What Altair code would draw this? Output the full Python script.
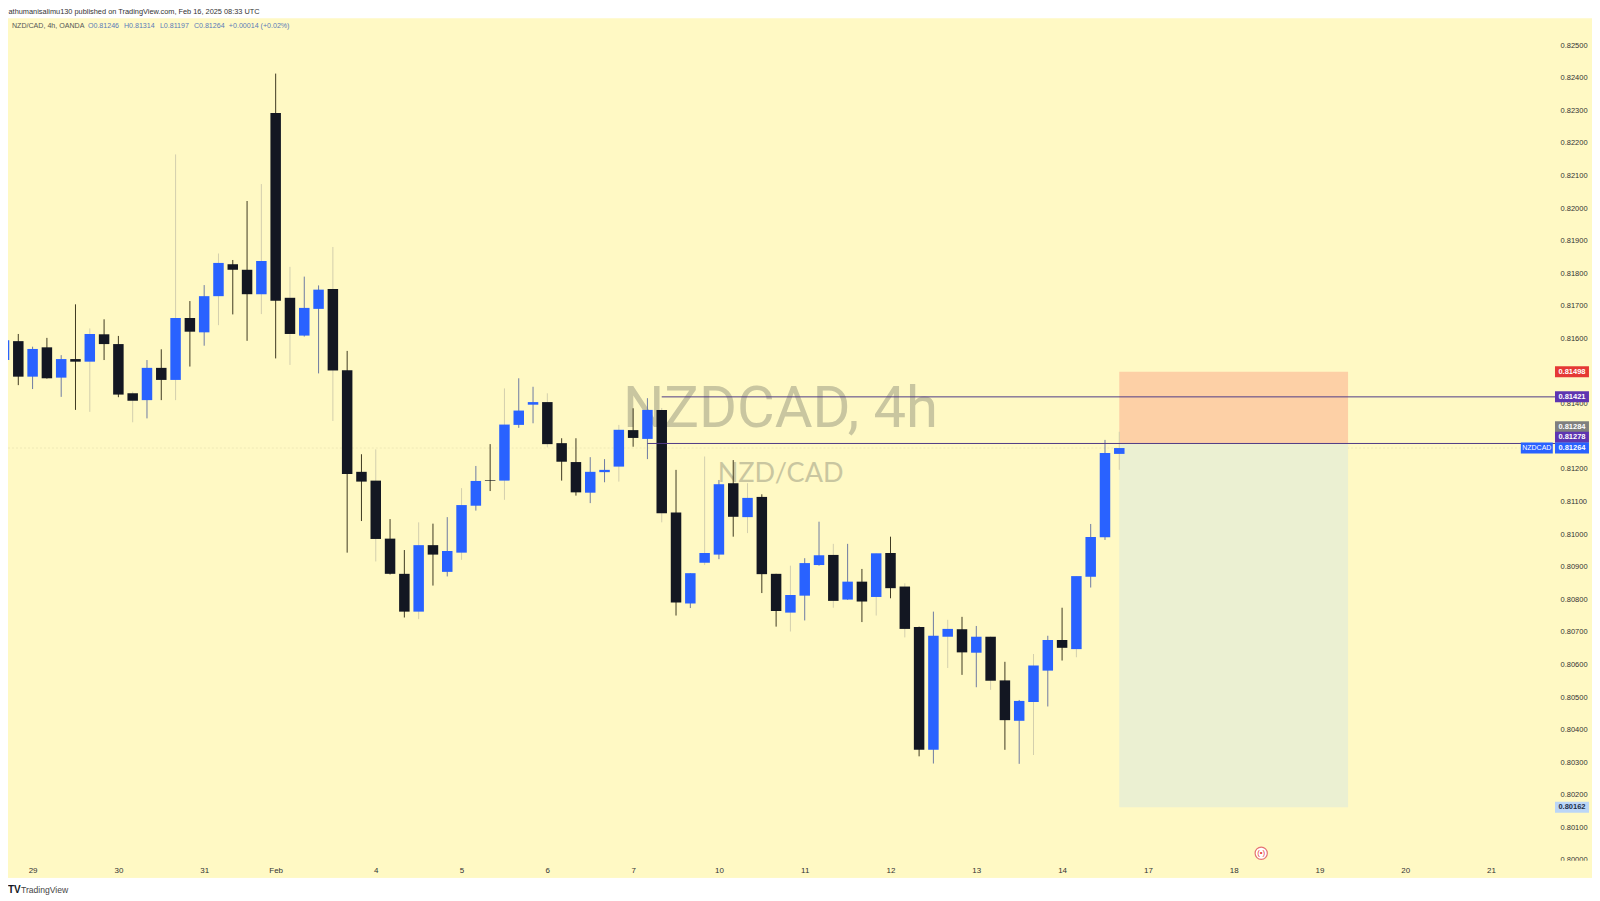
import altair as alt
import pandas as pd

opens = [.81534,.81592,.81483,.81573,.81480,.81537,.81529,.81613,.81583,.81432,.81411,.81510,.81473,.81663,.81619,.81730,.81828,.81811,.81736,.82292,
         .81725,.81609,.81691,.81752,.81503,.81191,.81164,.80986,.80878,.80762,.80966,.80884,.80943,.81087,.81166,.81164,.81335,.81397,.81405,.81279,
         .81221,.81127,.81190,.81207,.81319,.81292,.81381,.81066,.80787,.80912,.80937,.81156,.81052,.81114,.80878,.80759,.80811,.80905,.80936,.80799,
         .80854,.80807,.80942,.80839,.80715,.80338,.80685,.80708,.80636,.80685,.80551,.80427,.80485,.80581,.80675,.80647,.80869,.80990,.81246]
highs = [.81610,.81614,.81575,.81602,.81549,.81705,.81631,.81659,.81608,.81437,.81534,.81567,.82165,.81715,.81764,.81861,.81841,.82022,.82074,.82413,
         .81820,.81790,.81763,.81881,.81562,.81245,.81260,.81046,.80951,.81036,.81032,.81052,.81141,.81209,.81276,.81447,.81478,.81452,.81432,.81294,
         .81294,.81236,.81230,.81335,.81386,.81417,.81387,.81197,.80880,.81238,.81166,.81227,.81156,.81122,.80878,.80903,.80926,.81038,.80970,.80970,
         .80893,.80941,.80992,.80849,.80716,.80762,.80737,.80746,.80718,.80686,.80608,.80491,.80632,.80688,.80774,.80871,.81031,.81289,.81314]
lows = [.81530,.81457,.81445,.81477,.81421,.81381,.81375,.81534,.81420,.81343,.81355,.81411,.81411,.81514,.81578,.81641,.81674,.81593,.81675,.81539,
        .81519,.81606,.81493,.81347,.80943,.81040,.80916,.80876,.80744,.80739,.80842,.80870,.80921,.81072,.81132,.81105,.81326,.81340,.81266,.81164,
        .81118,.81095,.81159,.81161,.81268,.81230,.81036,.80750,.80773,.80905,.80923,.80992,.81003,.80819,.80716,.80701,.80735,.80903,.80774,.80798,
        .80730,.80750,.80803,.80683,.80318,.80296,.80589,.80568,.80530,.80522,.80338,.80295,.80322,.80471,.80612,.80622,.80836,.80982,.81197]
closes = [.81595,.81483,.81568,.81478,.81537,.81529,.81614,.81583,.81428,.81409,.81510,.81473,.81663,.81621,.81730,.81832,.81811,.81736,.81838,.81716,
          .81614,.81694,.81750,.81502,.81184,.81161,.80985,.80878,.80762,.80966,.80937,.80948,.81089,.81163,.81164,.81336,.81379,.81405,.81276,.81222,
          .81128,.81191,.81197,.81320,.81295,.81381,.81064,.80790,.80880,.80942,.81153,.81053,.81111,.80877,.80764,.80813,.80911,.80935,.80795,.80854,
          .80793,.80941,.80834,.80709,.80338,.80688,.80709,.80637,.80685,.80550,.80429,.80488,.80597,.80675,.80651,.80871,.80991,.81249,.81264]
pale_wicks = [6, 9, 12, 15, 18, 20, 23, 26, 29, 32, 35, 38, 43, 46, 49, 52, 55, 58, 61, 63, 66, 69, 72, 75, 78]

y_ticks = [0.80000 + 0.001 * k for k in range(26)]
day_positions = [2, 8, 14, 19, 26, 32, 38, 44, 50, 56, 62, 68, 74, 80, 86, 92, 98, 104]
day_labels = ["29", "30", "31", "Feb", "4", "5", "6", "7", "10", "11", "12", "13", "14", "17", "18", "19", "20", "21"]

entry_price = 0.81278
stop_price = 0.81498
target_price = 0.80162
resistance_price = 0.81421
last_price = 0.81264

badge_labels = ["0.81498", "0.81421", "0.81284", "0.81278", "0.81264", "0.80162"]
badge_prices = [0.81498, 0.81421, 0.81329, 0.81297, 0.81264, 0.80162]
badge_fills = ["#e53935", "#5e35b1", "#7f7f7f", "#5e35b1", "#2962ff", "#bbd6f7"]
badge_texts = ["#ffffff", "#ffffff", "#ffffff", "#ffffff", "#ffffff", "#20304a"]

BG = "#fff9c4"
BLUE = "#2962ff"
BLACK = "#131722"
FONT = "Liberation Sans"
W, H = 1585, 860

candles = pd.DataFrame({"i": range(len(opens)), "o": opens, "h": highs, "l": lows, "c": closes})
candles["top"] = candles[["o", "c"]].max(axis=1)
candles["bot"] = candles[["o", "c"]].min(axis=1)
candles["col"] = [BLUE if c >= o else BLACK for o, c in zip(opens, closes)]
candles["wick"] = ["#d3cfae" if n in pale_wicks else ("#6d7aa3" if c >= o else "#3f3a22")
                   for n, (o, c) in enumerate(zip(opens, closes))]

xs = alt.Scale(domain=[0.28, 111.06], range=[0, W], nice=False, zero=False, padding=0)
ys = alt.Scale(domain=[0.799455, 0.825827], range=[H, 0], nice=False, zero=False, padding=0)
label_expr = "{" + ",".join(f"'{p}':'{t}'" for p, t in zip(day_positions, day_labels)) + "}['' + datum.value]"

x_axis = alt.Axis(values=day_positions, labelExpr=label_expr, domain=False, ticks=False, grid=False, title=None,
                  labelFont=FONT, labelFontSize=8, labelColor="#333333", labelPadding=0, labelBaseline="middle",
                  offset=-7, labelOverlap=False, labelFlush=False, zindex=1, tickCount=40)
y_axis = alt.Axis(values=y_ticks, format=".5f", orient="right", domain=False, ticks=False, grid=False, title=None,
                  labelFont=FONT, labelFontSize=7.5, labelColor="#333333", labelPadding=0, labelAlign="left",
                  offset=-32, labelOverlap=False, labelFlush=False, labelBound=False, zindex=0, tickCount=40)

X = alt.X("i:Q", scale=xs, axis=x_axis)
Y = alt.Y("h:Q", scale=ys, axis=y_axis)


def t(text, x, y, size, color, align="left", font=FONT, weight="normal"):
    return alt.Chart(pd.DataFrame({"t": [text]})).mark_text(
        align=align, baseline="middle", fontSize=size, color=color, font=font, fontWeight=weight
    ).encode(text="t:N", x=alt.value(x - 8), y=alt.value(y - 18))


base = alt.Chart(candles)
wicks = base.mark_rule(strokeWidth=1, clip=True).encode(x=X, y=Y, y2="l:Q", color=alt.Color("wick:N", scale=None))
bodies = base.mark_bar(size=10.5, orient="vertical", clip=True).encode(
    x=alt.X("i:Q", scale=xs), y=alt.Y("top:Q", scale=ys), y2="bot:Q", color=alt.Color("col:N", scale=None))

zones = pd.DataFrame({"a": [78, 78], "b": [94, 94], "t": [stop_price, entry_price], "u": [entry_price, target_price],
                      "col": ["#fdd0a6", "#ebf0d2"]})
zone_rects = alt.Chart(zones).mark_rect().encode(
    x=alt.X("a:Q", scale=xs), x2="b:Q", y=alt.Y("t:Q", scale=ys), y2="u:Q", color=alt.Color("col:N", scale=None))

lines = pd.DataFrame({"a": [46, 45], "b": [108.5, 108.5], "p": [resistance_price, entry_price]})
level_lines = alt.Chart(lines).mark_rule(strokeWidth=1, color="#4f3a86").encode(
    x=alt.X("a:Q", scale=xs), x2="b:Q", y=alt.Y("p:Q", scale=ys))

dotted = alt.Chart(pd.DataFrame({"a": [0.28], "b": [106], "p": [last_price]})).mark_rule(
    strokeWidth=1, color="#efe9b8", strokeDash=[2, 2]).encode(
    x=alt.X("a:Q", scale=xs), x2="b:Q", y=alt.Y("p:Q", scale=ys))

badges = pd.DataFrame({"label": badge_labels, "p": badge_prices, "fill": badge_fills, "txt": badge_texts, "i": [109.66] * 6})
badge_rects = alt.Chart(badges).mark_rect(width=34, height=11).encode(
    x=alt.X("i:Q", scale=xs), y=alt.Y("p:Q", scale=ys), color=alt.Color("fill:N", scale=None))
badge_text = alt.Chart(badges).mark_text(fontSize=7.5, font=FONT, fontWeight="bold", baseline="middle").encode(
    x=alt.X("i:Q", scale=xs), y=alt.Y("p:Q", scale=ys), text="label:N", color=alt.Color("txt:N", scale=None))

sym = pd.DataFrame({"label": ["NZDCAD"], "p": [last_price], "i": [107.2]})
sym_rect = alt.Chart(sym).mark_rect(width=32, height=11, color=BLUE).encode(
    x=alt.X("i:Q", scale=xs), y=alt.Y("p:Q", scale=ys))
sym_text = alt.Chart(sym).mark_text(fontSize=7, font=FONT, color="#ffffff", baseline="middle").encode(
    x=alt.X("i:Q", scale=xs), y=alt.Y("p:Q", scale=ys), text="label:N")

cover = alt.Chart(pd.DataFrame({"k": [0]})).mark_rect(color=BG).encode(
    x=alt.value(0), x2=alt.value(W), y=alt.value(861 - 18), y2=alt.value(H))

flag_ring = alt.Chart(pd.DataFrame({"k": [0]})).mark_point(
    shape="circle", size=150, filled=True, fill="#ffffff", stroke="#e57373", strokeWidth=1.2, opacity=1
).encode(x=alt.value(1262 - 8), y=alt.value(853.5 - 18))

wm_color = "#c9c6a0"
layers = [
    dotted,
    t("NZDCAD, 4h", 781, 410, 58, wm_color, "center", "Roboto"),
    t("NZD/CAD", 781, 474, 27, wm_color, "center", "Lato"),
    zone_rects,
    wicks,
    bodies,
    level_lines,
    cover,
    badge_rects,
    sym_rect,
    badge_text,
    sym_text,
    flag_ring,
    t("(•)", 1262, 853.5, 8, "#e53935", "center"),
    t("athumanisalimu130 published on TradingView.com, Feb 16, 2025 08:33 UTC", 8.5, 12, 7.4, "#333333"),
    t("NZD/CAD, 4h, OANDA", 12, 26, 7.1, "#555555"),
    t("O0.81246", 88, 26, 7.1, "#5a7ab8"),
    t("H0.81314", 124, 26, 7.1, "#5a7ab8"),
    t("L0.81197", 160, 26, 7.1, "#5a7ab8"),
    t("C0.81264", 194, 26, 7.1, "#5a7ab8"),
    t("+0.00014 (+0.02%)", 229, 26, 7.1, "#5a7ab8"),
    t("TV", 8, 890, 10, "#131722", "left", FONT, "bold"),
    t("TradingView", 21, 890, 8.6, "#444444"),
]

chart = alt.layer(*layers).properties(
    width=W, height=H, padding={"left": 0, "top": 10, "right": 0, "bottom": 17}, background="#ffffff",
    autosize=alt.AutoSizeParams(type="none")
).configure_view(fill=BG, stroke=None)

chart.save("out.html", embed_options={"renderer": "svg", "actions": False})
